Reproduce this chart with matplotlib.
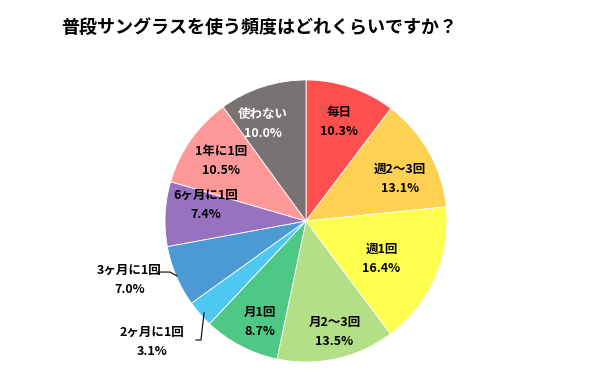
import numpy as np
import matplotlib.pyplot as plt

plt.rcParams['font.family'] = ['Noto Sans CJK JP', 'DejaVu Sans']

labels = ["毎日", "週2〜3回", "週1回", "月2〜3回", "月1回",
          "2ヶ月に1回", "3ヶ月に1回", "6ヶ月に1回", "1年に1回", "使わない"]
values = [10.3, 13.1, 16.4, 13.5, 8.7, 3.1, 7.0, 7.4, 10.5, 10.0]
colors = ["#FF4F4F", "#FFD152", "#FFFF4F", "#B3DF86", "#4EC885",
          "#4FC8F2", "#4B9AD3", "#9872C0", "#FF9999", "#787372"]

# radial position of each label (fraction of radius), >1 means outside with leader line
label_r = [0.74, 0.73, 0.60, 0.81, 0.79, 1.39, 1.32, 0.72, 0.74, 0.75]
label_shift = [0, -5, -3, 2, 3, -3, -4.6, -6, 0, 6]   # degrees
text_colors = ["black"] * 9 + ["white"]

fig = plt.figure(figsize=(6.13, 3.92), dpi=100)
fig.text(0.423, 0.929, "普段サングラスを使う頻度はどれくらいですか？",
         ha="center", va="center", fontsize=13, fontweight="bold")

cx, cy, R = 306, 221, 141
ax = fig.add_axes([(cx - R) / 613, (392 - cy - R) / 392, 2 * R / 613, 2 * R / 392])
wedges, _ = ax.pie(values, colors=colors, startangle=90, counterclock=False,
                   wedgeprops=dict(edgecolor="white", linewidth=0.6))
ax.set_xlim(-1, 1)
ax.set_ylim(-1, 1)

for w, lab, v, r, sh, tc in zip(wedges, labels, values, label_r, label_shift, text_colors):
    ang = np.deg2rad((w.theta1 + w.theta2) / 2 + sh)
    x, y = r * np.cos(ang), r * np.sin(ang)
    ax.text(x, y, f"{lab}\n{v:.1f}%", ha="center", va="center", fontsize=9,
            fontweight="bold", linespacing=1.6, color=tc, clip_on=False)

# leader lines for outside labels
ax.plot([-1.057, -0.965, -0.915], [-0.362, -0.362, -0.39],
        color="black", lw=0.8, clip_on=False)
ax.plot([-0.78, -0.745, -0.723], [-0.844, -0.844, -0.652],
        color="black", lw=0.8, clip_on=False)

fig.savefig("out.png", dpi=100)
